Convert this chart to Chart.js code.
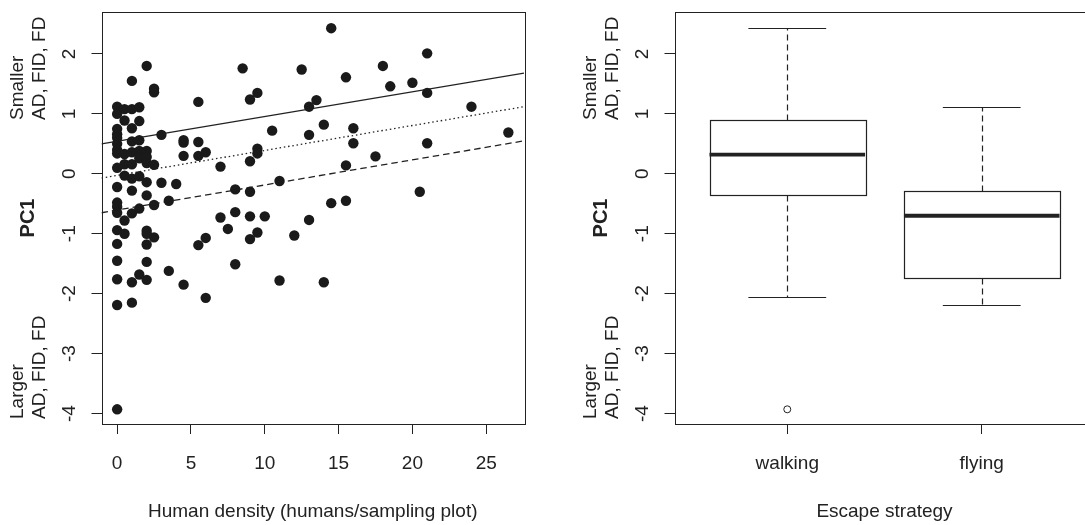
<!DOCTYPE html>
<html>
<head>
<meta charset="utf-8">
<script src="https://cdn.jsdelivr.net/npm/chart.js@4/dist/chart.umd.min.js"></script>
<style>
  html, body { margin: 0; padding: 0; background: #fff; overflow: hidden; }
  #wrap { position: relative; width: 1085px; height: 525px; overflow: hidden; }
  #leftChart { position: absolute; left: 0; top: 0; }
  #rightChart { position: absolute; left: 543px; top: 0; }
</style>
</head>
<body>
<div id="wrap">
  <canvas id="leftChart" width="543" height="525"></canvas>
  <canvas id="rightChart" width="560" height="525"></canvas>
</div>
<script>
// --- left panel: PC1 vs human density ---
const densityLevels = [0, 0.5, 1, 1.5, 2, 2.5, 3, 3.5, 4, 4.5, 5.5, 6, 7, 7.5, 8, 8.5, 9, 9.5, 10,
  10.5, 11, 12, 12.5, 13, 13.5, 14, 14.5, 15.5, 16, 17.5, 18, 18.5, 20, 20.5, 21, 24, 26.5];
const pc1AtLevel = [
  [1.12, 1.0, 0.75, 0.66, 0.6, 0.5, 0.4, 0.34, 0.1, -0.22, -0.48, -0.55, -0.65, -0.94, -1.17, -1.45, -1.76, -2.19, -3.93],
  [1.08, 0.89, 0.33, 0.16, -0.03, -0.78, -1.0],
  [1.55, 1.08, 0.76, 0.54, 0.36, 0.16, -0.08, -0.28, -0.66, -1.81, -2.15],
  [1.11, 0.88, 0.56, 0.38, 0.26, -0.04, -0.58, -1.68],
  [1.8, 0.38, 0.28, 0.18, -0.14, -0.36, -0.95, -1.0, -1.18, -1.47, -1.77],
  [1.42, 1.36, 0.15, -0.52, -1.06],
  [0.65, -0.15],
  [-0.45, -1.62],
  [-0.17],
  [0.56, 0.52, 0.3, -1.85],
  [1.2, 0.53, 0.3, -1.19],
  [0.36, -1.07, -2.07],
  [0.12, -0.73],
  [-0.92],
  [-0.26, -0.64, -1.51],
  [1.76],
  [1.24, 0.21, -0.3, -0.71, -1.09],
  [1.35, 0.42, 0.34, -0.98],
  [-0.71],
  [0.72],
  [-0.12, -1.78],
  [-1.03],
  [1.74],
  [1.12, 0.65, -0.77],
  [1.23],
  [0.82, -1.81],
  [2.43, -0.49],
  [1.61, 0.14, -0.45],
  [0.76, 0.51],
  [0.29],
  [1.8],
  [1.46],
  [1.52],
  [-0.3],
  [2.01, 1.35, 0.51],
  [1.12],
  [0.69]
];
// fitted lines, read at the two ends of the x range
const fitRange = [-1.06, 27.56];
const fitSolid = [0.50, 1.68];
const fitDotted = [-0.07, 1.12];
const fitDashed = [-0.65, 0.55];
const densityTicks = [0, 5, 10, 15, 20, 25];
const pc1Ticks = [-4, -3, -2, -1, 0, 1, 2];

// --- right panel: PC1 by escape strategy ---
const strategies = ['walking', 'flying'];
const whiskerLow = [-2.06, -2.19];
const boxQ1 = [-0.35, -1.74];
const boxMedian = [0.32, -0.70];
const boxQ3 = [0.90, -0.28];
const whiskerHigh = [2.44, 1.12];
const outlierPC1 = [[-3.93], []];

const ink = '#222';
const fam = 'Arial, "Liberation Sans", sans-serif';
Chart.defaults.font.family = fam;
Chart.defaults.font.size = 19;
Chart.defaults.color = ink;

function rotText(ctx, txt, x, y, align, font) {
  ctx.save();
  ctx.translate(x, y);
  ctx.rotate(-Math.PI / 2);
  ctx.font = font;
  ctx.textAlign = align;
  ctx.textBaseline = 'middle';
  ctx.fillStyle = ink;
  ctx.fillText(txt, 0, 0);
  ctx.restore();
}

// box around the plot + R-style y labels
const frame = {
  id: 'frame',
  afterDraw(chart) {
    const { ctx, chartArea: a, scales: { y } } = chart;
    ctx.save();
    ctx.strokeStyle = ink;
    ctx.lineWidth = 1;
    ctx.strokeRect(Math.round(a.left) + 0.5, Math.round(a.top) + 0.5,
      Math.round(a.right - a.left), Math.round(a.bottom - a.top));
    ctx.restore();
    const reg = '19px ' + fam;
    pc1Ticks.forEach(v => rotText(ctx, String(v), a.left - 32, y.getPixelForValue(v), 'center', reg));
    rotText(ctx, 'Smaller', a.left - 84, 120, 'left', reg);
    rotText(ctx, 'AD, FID, FD', a.left - 62, 120, 'left', reg);
    rotText(ctx, 'Larger', a.left - 84, 419, 'left', reg);
    rotText(ctx, 'AD, FID, FD', a.left - 62, 419, 'left', reg);
    rotText(ctx, 'PC1', a.left - 73, (a.top + a.bottom) / 2, 'center', 'bold 20px ' + fam);
  }
};

// boxplot drawn through the chart's scales
const boxes = {
  id: 'boxes',
  beforeDatasetsDraw(chart) {
    const { ctx, scales: { x, y } } = chart;
    const seg = (x1, y1, x2, y2) => { ctx.beginPath(); ctx.moveTo(x1, y1); ctx.lineTo(x2, y2); ctx.stroke(); };
    ctx.save();
    ctx.strokeStyle = ink;
    strategies.forEach((s, i) => {
      const pos = i + 1;
      const xc = Math.round(x.getPixelForValue(pos)) + 0.5;
      const xl = x.getPixelForValue(pos - 0.4), xr = x.getPixelForValue(pos + 0.4);
      const cl = x.getPixelForValue(pos - 0.2), cr = x.getPixelForValue(pos + 0.2);
      const yLo = Math.round(y.getPixelForValue(whiskerLow[i])) + 0.5;
      const yHi = Math.round(y.getPixelForValue(whiskerHigh[i])) + 0.5;
      const y1 = Math.round(y.getPixelForValue(boxQ1[i])) + 0.5;
      const y3 = Math.round(y.getPixelForValue(boxQ3[i])) + 0.5;
      const ym = y.getPixelForValue(boxMedian[i]);
      ctx.lineWidth = 1.2;
      ctx.setLineDash([6, 4]);
      seg(xc, y3, xc, yHi);
      seg(xc, y1, xc, yLo);
      ctx.setLineDash([]);
      seg(cl, yHi, cr, yHi);
      seg(cl, yLo, cr, yLo);
      ctx.strokeRect(Math.round(xl) + 0.5, y3, Math.round(xr - xl), y1 - y3);
      ctx.lineWidth = 3.8;
      seg(xl, ym, xr, ym);
    });
    ctx.restore();
  }
};

function axisX(min, max, ticks, title, cb) {
  return {
    type: 'linear', min, max, bounds: 'data',
    afterBuildTicks: s => { s.ticks = ticks.map(v => ({ value: v })); },
    afterFit: s => { s.height = 101; },
    grid: { drawOnChartArea: false, drawTicks: true, tickLength: 10, color: ink },
    border: { display: false },
    ticks: { padding: 18, color: ink, maxRotation: 0, autoSkip: false, callback: cb },
    title: { display: true, text: title, color: ink, padding: { top: 0, bottom: 2 } }
  };
}
function axisY(width) {
  return {
    type: 'linear', min: -4.175, max: 2.70, bounds: 'data',
    afterBuildTicks: s => { s.ticks = pc1Ticks.map(v => ({ value: v })); },
    afterFit: s => { s.width = width; },
    grid: { drawOnChartArea: false, drawTicks: true, tickLength: 10, color: ink },
    border: { display: false },
    ticks: { display: false }
  };
}

const points = densityLevels.flatMap((d, i) => pc1AtLevel[i].map(v => ({ x: d, y: v })));
const fitLine = (ys, dash) => ({
  type: 'line',
  data: fitRange.map((x, i) => ({ x, y: ys[i] })),
  borderColor: ink, borderWidth: 1.3, borderDash: dash,
  pointRadius: 0, fill: false
});

new Chart(document.getElementById('leftChart'), {
  type: 'scatter',
  data: {
    datasets: [
      { data: points, pointRadius: 5.2, pointBackgroundColor: '#1a1a1a', pointBorderWidth: 0 },
      fitLine(fitSolid, []),
      fitLine(fitDotted, [1.5, 2.8]),
      fitLine(fitDashed, [6.5, 4])
    ]
  },
  options: {
    responsive: false, animation: false, events: [],
    layout: { padding: { left: 0, top: 12, right: 19, bottom: 0 } },
    plugins: { legend: { display: false }, tooltip: { enabled: false } },
    scales: {
      x: axisX(fitRange[0], fitRange[1], densityTicks, 'Human density (humans/sampling plot)'),
      y: axisY(101.5)
    }
  },
  plugins: [frame]
});

new Chart(document.getElementById('rightChart'), {
  type: 'scatter',
  data: {
    datasets: [{
      data: outlierPC1.flatMap((vals, i) => vals.map(v => ({ x: i + 1, y: v }))),
      pointRadius: 3.5, pointBackgroundColor: '#fff', pointBorderColor: ink, pointBorderWidth: 1
    }]
  },
  options: {
    responsive: false, animation: false, events: [],
    layout: { padding: { left: 0, top: 12, right: 8.5, bottom: 0 } },
    plugins: { legend: { display: false }, tooltip: { enabled: false } },
    scales: {
      x: axisX(0.42, 2.58, strategies.map((s, i) => i + 1), 'Escape strategy', v => strategies[v - 1]),
      y: axisY(131.5)
    }
  },
  plugins: [boxes, frame]
});
</script>
</body>
</html>
